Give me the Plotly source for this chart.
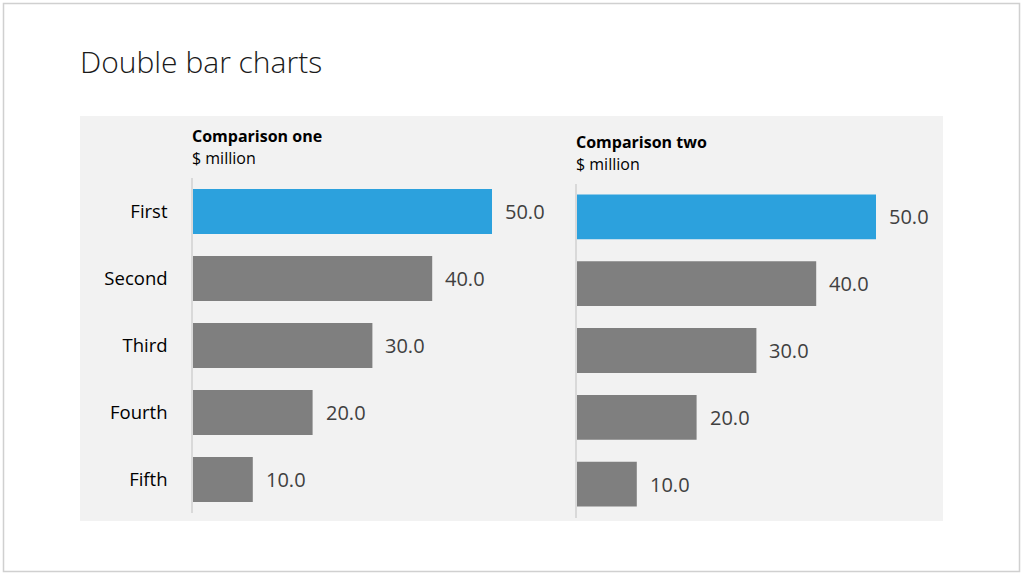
import plotly.graph_objects as go

categories = ["First", "Second", "Third", "Fourth", "Fifth"]
values_one = [50.0, 40.0, 30.0, 20.0, 10.0]
values_two = [50.0, 40.0, 30.0, 20.0, 10.0]
bar_colors = ["#2ca1dd", "#7f7f7f", "#7f7f7f", "#7f7f7f", "#7f7f7f"]

W, H = 1024, 576
FONT = "Open Sans"

def px(x):
    return x / W

def py(y):
    return 1 - y / H

fig = go.Figure()
fig.add_trace(go.Bar(y=categories, x=values_one, orientation="h",
                     marker=dict(color=bar_colors, line=dict(width=0)),
                     width=0.67, xaxis="x", yaxis="y", hoverinfo="skip"))
fig.add_trace(go.Bar(y=categories, x=values_two, orientation="h",
                     marker=dict(color=bar_colors, line=dict(width=0)),
                     width=0.67, xaxis="x2", yaxis="y2", hoverinfo="skip"))

annotations = []
for xr, yr, vals in (("x", "y", values_one), ("x2", "y2", values_two)):
    for c, v in zip(categories, vals):
        annotations.append(dict(x=v, y=c, xref=xr, yref=yr, text=f"{v:.1f}",
                                showarrow=False, xanchor="left", xshift=11,
                                font=dict(family=FONT, size=20, color="#404040")))

annotations += [
    dict(x=px(78), y=py(62), xref="paper", yref="paper", text="Double bar charts",
         showarrow=False, xanchor="left", yanchor="middle",
         font=dict(family=FONT, size=30, color="#1a1a1a", weight=300)),
    dict(x=px(190), y=py(136), xref="paper", yref="paper", text="<b>Comparison one</b>",
         showarrow=False, xanchor="left", yanchor="middle",
         font=dict(family=FONT, size=16, color="#000000")),
    dict(x=px(190), y=py(158), xref="paper", yref="paper", text="$ million",
         showarrow=False, xanchor="left", yanchor="middle",
         font=dict(family=FONT, size=16, color="#000000")),
    dict(x=px(574), y=py(142), xref="paper", yref="paper", text="<b>Comparison two</b>",
         showarrow=False, xanchor="left", yanchor="middle",
         font=dict(family=FONT, size=16, color="#000000")),
    dict(x=px(574), y=py(164), xref="paper", yref="paper", text="$ million",
         showarrow=False, xanchor="left", yanchor="middle",
         font=dict(family=FONT, size=16, color="#000000")),
]

shapes = [
    dict(type="rect", xref="paper", yref="paper", x0=px(3.5), x1=px(1019.5),
         y0=py(571.5), y1=py(3.5), line=dict(color="#d0d0d0", width=1.5),
         fillcolor="rgba(0,0,0,0)", layer="below"),
    dict(type="rect", xref="paper", yref="paper", x0=px(80), x1=px(943),
         y0=py(521), y1=py(116), line=dict(width=0), fillcolor="#f2f2f2",
         layer="below"),
]

scale = 5.98  # px per unit
xmax = 60
fig.update_layout(
    width=W, height=H, autosize=False,
    margin=dict(l=0, r=0, t=0, b=0),
    paper_bgcolor="white", plot_bgcolor="rgba(0,0,0,0)",
    showlegend=False, bargap=0.33,
    annotations=annotations, shapes=shapes,
    xaxis=dict(domain=[px(193), px(193 + xmax * scale)], range=[0, xmax],
               visible=False, fixedrange=True),
    xaxis2=dict(domain=[px(577), px(577 + xmax * scale)], range=[0, xmax],
                visible=False, fixedrange=True),
    yaxis=dict(domain=[py(513), py(178)], autorange="reversed",
               categoryorder="array", categoryarray=categories,
               showline=True, linecolor="#d9d9d9", linewidth=1.5,
               showgrid=False, zeroline=False, ticks="",
               ticklabelstandoff=20,
               tickfont=dict(family=FONT, size=18.5, color="#000000")),
    yaxis2=dict(domain=[py(517.5), py(183.5)], autorange="reversed",
                anchor="x2",
                categoryorder="array", categoryarray=categories,
                showline=True, linecolor="#d9d9d9", linewidth=1.5,
                showgrid=False, zeroline=False, ticks="",
                showticklabels=False),
)

fig.write_html("out.html")
